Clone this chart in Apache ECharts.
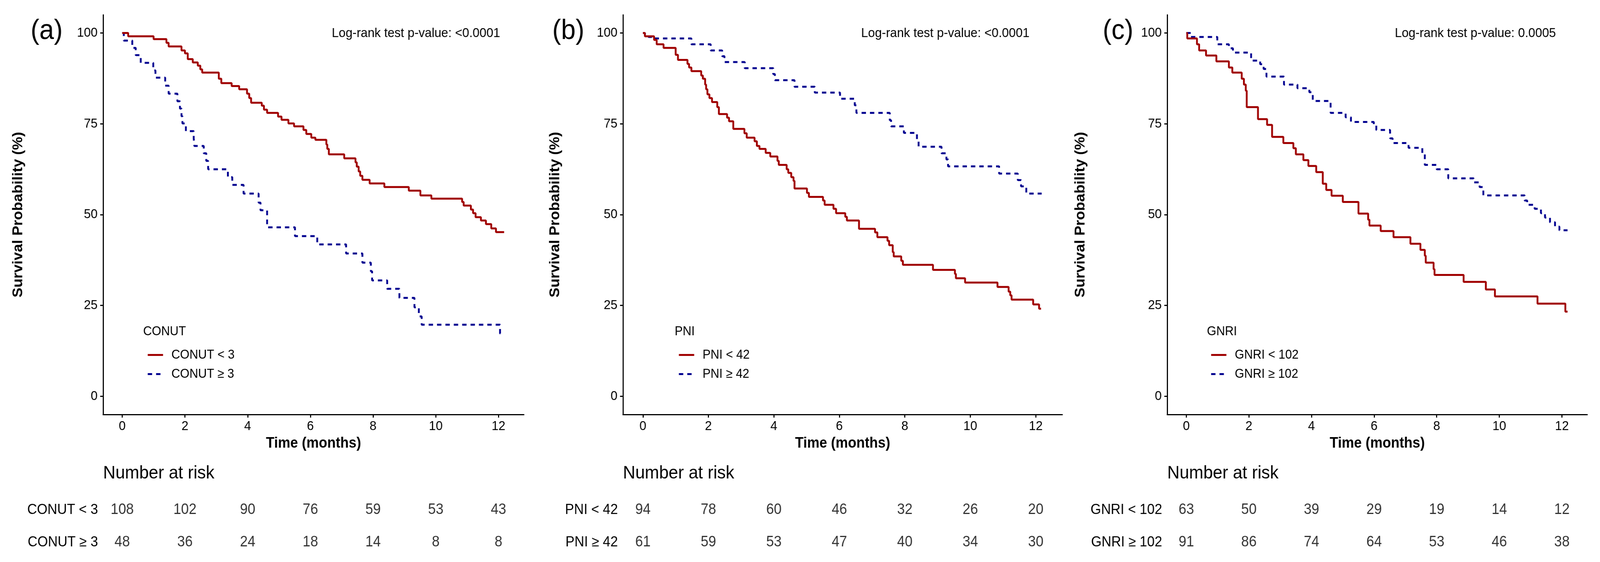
<!DOCTYPE html>
<html><head><meta charset="utf-8">
<script src="https://cdn.jsdelivr.net/npm/echarts@6/dist/echarts.min.js"></script>
<style>html,body{margin:0;padding:0;background:#fff;overflow:hidden}#c{width:4392px;height:1440px;transform-origin:0 0;position:absolute;left:0;top:0}</style>
</head><body><div id="c"></div><script>
// ---------- data ----------
const xTicks = [0, 2, 4, 6, 8, 10, 12];
const yTicks = [0, 25, 50, 75, 100];
const riskTimes = [0, 2, 4, 6, 8, 10, 12];
const panelLabels = ['(a)', '(b)', '(c)'];
const pValueTexts = ['Log-rank test p-value: <0.0001', 'Log-rank test p-value: <0.0001', 'Log-rank test p-value: 0.0005'];
const legendTitles = ['CONUT', 'PNI', 'GNRI'];
const groupNames = [['CONUT < 3', 'CONUT ≥ 3'], ['PNI < 42', 'PNI ≥ 42'], ['GNRI < 102', 'GNRI ≥ 102']];

const conutLow = [[0,100],[0.19,99.1],[1.0,98.3],[1.41,97.3],[1.48,96.3],[1.89,95.2],[2.0,94.4],[2.09,92.8],[2.25,91.9],[2.41,91.0],[2.49,90.0],[2.55,89.1],[3.08,87.4],[3.16,86.2],[3.49,85.4],[3.73,84.5],[3.98,83.3],[4.05,82.1],[4.11,80.8],[4.45,80.0],[4.52,78.9],[4.62,78.0],[4.97,77.0],[5.08,76.1],[5.3,75.1],[5.48,74.3],[5.78,73.3],[5.87,72.2],[6.03,71.2],[6.16,70.6],[6.51,69.3],[6.54,68.1],[6.59,66.6],[7.08,65.5],[7.44,64.4],[7.48,63.2],[7.54,61.9],[7.59,60.7],[7.66,59.6],[7.89,58.6],[8.36,57.6],[9.14,56.6],[9.51,55.3],[9.86,54.4],[10.84,53.5],[10.89,52.5],[11.12,51.4],[11.19,50.4],[11.27,49.3],[11.44,48.4],[11.6,47.4],[11.77,46.2],[11.92,45.2],[12.18,45.2]];
const conutHigh = [[0,100],[0.05,97.9],[0.32,95.9],[0.43,93.9],[0.59,91.8],[0.99,89.7],[1.06,87.7],[1.37,85.5],[1.48,83.3],[1.76,81.2],[1.84,79.2],[1.89,77.1],[1.92,75.1],[2.03,73.0],[2.28,71.0],[2.3,68.9],[2.6,66.9],[2.68,64.8],[2.74,62.5],[3.37,60.3],[3.51,58.2],[3.87,55.8],[4.35,53.3],[4.41,51.2],[4.62,46.5],[5.51,44.1],[6.22,41.8],[7.14,39.3],[7.66,36.8],[7.93,34.4],[7.97,31.9],[8.45,29.6],[8.84,27.1],[9.32,24.5],[9.46,22.0],[9.55,19.7],[12.05,17.3],[12.18,17.3]];
const pniLow = [[0,100],[0.06,99.1],[0.34,98.1],[0.42,96.9],[0.63,95.9],[1.0,94.0],[1.07,92.6],[1.36,91.5],[1.41,90.5],[1.48,89.5],[1.78,88.3],[1.83,87.4],[1.9,85.8],[1.93,84.5],[1.97,83.1],[2.03,82.1],[2.11,81.0],[2.27,79.6],[2.32,77.7],[2.57,76.7],[2.63,75.7],[2.76,73.6],[3.1,72.4],[3.17,71.2],[3.41,70.2],[3.48,68.9],[3.56,68.1],[3.75,67.0],[3.89,66.0],[4.11,64.8],[4.15,63.7],[4.39,62.5],[4.44,61.5],[4.53,60.3],[4.6,59.3],[4.63,57.2],[5.01,56.0],[5.07,54.9],[5.5,53.9],[5.55,52.7],[5.82,51.6],[5.9,50.4],[6.18,49.4],[6.23,48.4],[6.6,46.1],[7.09,45.1],[7.16,43.8],[7.47,42.8],[7.52,41.6],[7.63,39.7],[7.66,38.5],[7.89,37.3],[7.94,36.2],[8.86,34.8],[9.53,33.7],[9.56,32.5],[9.84,31.3],[10.83,30.1],[11.17,28.8],[11.22,27.8],[11.26,26.6],[11.92,25.3],[12.1,24.1],[12.16,24.1]];
const pniHigh = [[0,100],[0.06,99.5],[0.17,98.9],[0.34,98.5],[1.48,96.9],[2.07,95.2],[2.42,93.6],[2.49,92.0],[3.11,90.3],[3.98,88.7],[4.03,87.0],[4.63,85.2],[5.25,83.6],[6.02,81.9],[6.47,80.1],[6.52,78.0],[7.54,76.0],[7.58,74.3],[7.97,72.5],[8.37,70.6],[8.42,68.7],[9.12,66.9],[9.27,65.2],[9.32,63.3],[10.88,61.3],[11.45,59.5],[11.55,57.8],[11.71,55.8],[12.18,55.8]];
const gnriLow = [[0,100],[0.03,98.5],[0.34,96.9],[0.41,95.2],[0.63,93.8],[0.96,92.2],[1.36,90.5],[1.47,89.1],[1.77,87.4],[1.84,85.8],[1.9,84.1],[1.93,79.6],[2.29,76.3],[2.58,74.7],[2.74,71.4],[3.1,69.7],[3.42,68.3],[3.5,66.6],[3.74,65.0],[3.9,63.4],[4.15,61.7],[4.36,58.5],[4.47,56.8],[4.64,55.2],[5.0,53.5],[5.5,50.3],[5.81,48.6],[5.85,47.0],[6.21,45.5],[6.62,43.8],[7.16,42.0],[7.48,40.3],[7.62,38.7],[7.65,36.8],[7.9,35.0],[7.93,33.4],[8.86,31.5],[9.57,29.4],[9.86,27.5],[11.22,25.5],[12.11,23.3],[12.18,23.3]];
const gnriHigh = [[0,100],[0.14,98.9],[0.99,96.9],[1.36,95.8],[1.49,94.6],[2.07,92.4],[2.36,91.4],[2.47,90.1],[2.56,88.0],[3.12,85.8],[3.55,84.8],[3.93,83.7],[4.04,81.3],[4.61,78.0],[5.09,76.8],[5.26,75.5],[5.99,74.7],[6.07,73.3],[6.51,71.0],[6.59,69.7],[7.1,68.4],[7.54,66.9],[7.62,63.7],[8.0,62.5],[8.37,60.0],[9.18,58.9],[9.37,57.6],[9.49,55.3],[10.81,53.9],[10.89,52.7],[11.13,51.6],[11.33,50.4],[11.46,49.2],[11.62,47.9],[11.78,46.7],[11.92,45.7],[12.18,45.7]];

const conutRiskLow = [108, 102, 90, 76, 59, 53, 43];
const conutRiskHigh = [48, 36, 24, 18, 14, 8, 8];
const pniRiskLow = [94, 78, 60, 46, 32, 26, 20];
const pniRiskHigh = [61, 59, 53, 47, 40, 34, 30];
const gnriRiskLow = [63, 50, 39, 29, 19, 14, 12];
const gnriRiskHigh = [91, 86, 74, 64, 53, 46, 38];

const curves = [[conutLow, conutHigh], [pniLow, pniHigh], [gnriLow, gnriHigh]];
const risks = [[conutRiskLow, conutRiskHigh], [pniRiskLow, pniRiskHigh], [gnriRiskLow, gnriRiskHigh]];

// ---------- layout / style ----------
const FONT = '"Liberation Sans", Arial, sans-serif';
const RED = '#A00000', BLUE = '#000090';
const PLOT_TOP = 38, PLOT_H = 1024;
const TABLE_TOP = 1265, TABLE_H = 166;
const X_MIN = -0.61, X_MAX = 12.81;
const LINE_W = 5;
const layout = [
  { left: 283, width: 1155, yNameGap: 213, labelX: 128, pRight: 1373, legX: 398, legTitleX: 393 },
  { left: 1710, width: 1206, yNameGap: 166, labelX: 1560, pRight: 2826, legX: 1856, legTitleX: 1852 },
  { left: 3204, width: 1153, yNameGap: 218, labelX: 3069, pRight: 4271, legX: 3317, legTitleX: 3313 }
];

// fit the 4392x1440 design into the actual viewport
const box = document.getElementById('c');
const sx = (window.innerWidth || 4392) / 4392;
const sy = (window.innerHeight || 1440) / 1440;
if (Math.abs(sx - 1) > 0.001 || Math.abs(sy - 1) > 0.001) box.style.transform = 'scale(' + sx + ',' + sy + ')';

const grid = [], xAxis = [], yAxis = [], series = [], legend = [], graphic = [];
const axisLineStyle = { color: '#000', width: 3 };

layout.forEach((L, i) => {
  grid.push({ left: L.left, top: PLOT_TOP, width: L.width, height: PLOT_H, containLabel: false });
  xAxis.push({
    type: 'value', gridIndex: grid.length - 1, min: X_MIN, max: X_MAX,
    axisLine: { show: true, onZero: false, lineStyle: axisLineStyle },
    axisTick: { show: true, length: 8, lineStyle: axisLineStyle, customValues: xTicks },
    axisLabel: { customValues: xTicks, fontSize: 34, color: '#000', fontFamily: FONT, margin: 14 },
    splitLine: { show: false },
    name: 'Time (months)', nameLocation: 'middle', nameGap: 56,
    nameTextStyle: { fontSize: 38, fontWeight: 'bold', color: '#000', fontFamily: FONT }
  });
  yAxis.push({
    type: 'value', gridIndex: grid.length - 1, min: -5, max: 105,
    axisLine: { show: true, onZero: false, lineStyle: axisLineStyle },
    axisTick: { show: true, length: 8, lineStyle: axisLineStyle, customValues: yTicks },
    axisLabel: { customValues: yTicks, fontSize: 34, color: '#000', fontFamily: FONT, margin: 15 },
    splitLine: { show: false },
    name: 'Survival Probability (%)', nameLocation: 'middle', nameGap: L.yNameGap,
    nameTextStyle: { fontSize: 38, fontWeight: 'bold', color: '#000', fontFamily: FONT }
  });
  const plotIdx = xAxis.length - 1;
  curves[i].forEach((curve, k) => {
    series.push({
      type: 'line', name: groupNames[i][k], xAxisIndex: plotIdx, yAxisIndex: plotIdx,
      data: curve, step: 'end', symbol: 'none', showSymbol: false, silent: true,
      lineStyle: { color: k === 0 ? RED : BLUE, width: LINE_W, type: k === 0 ? 'solid' : [12, 11] },
      itemStyle: { color: k === 0 ? RED : BLUE }, z: k === 0 ? 3 : 2
    });
  });
  legend.push({
    orient: 'vertical', left: L.legX, top: 888, itemWidth: 42, itemHeight: 36, itemGap: 16,
    data: groupNames[i], selectedMode: false,
    itemStyle: { opacity: 0 },
    lineStyle: { width: LINE_W },
    textStyle: { fontSize: 33, color: '#000', fontFamily: FONT, padding: [0, 0, 0, 18] }
  });

  // risk table
  grid.push({ left: L.left, top: TABLE_TOP, width: L.width, height: TABLE_H, containLabel: false });
  xAxis.push({ type: 'value', gridIndex: grid.length - 1, min: X_MIN, max: X_MAX, show: false });
  yAxis.push({
    type: 'category', gridIndex: grid.length - 1, data: groupNames[i], inverse: true,
    axisLine: { show: false }, axisTick: { show: false }, splitLine: { show: false },
    axisLabel: { fontSize: 37, color: '#000', fontFamily: FONT, margin: 14 }
  });
  const tIdx = xAxis.length - 1;
  risks[i].forEach((row, k) => {
    series.push({
      type: 'scatter', name: 'risk-' + i + '-' + k, xAxisIndex: tIdx, yAxisIndex: tIdx,
      data: riskTimes.map((t, j) => [t, k, row[j]]), encode: { x: 0, y: 1 },
      symbolSize: 1, itemStyle: { color: 'rgba(0,0,0,0)' }, silent: true,
      label: { show: true, position: 'inside', formatter: p => String(p.value[2]),
               fontSize: 38, color: '#000', fontFamily: FONT }
    });
  });

  graphic.push({ type: 'text', x: L.labelX, y: 80, style: { text: panelLabels[i], fontSize: 72, fontFamily: FONT, fill: '#000', align: 'center', verticalAlign: 'middle' } });
  graphic.push({ type: 'text', x: L.pRight, y: 86, style: { text: pValueTexts[i], fontSize: 34, fontFamily: FONT, fill: '#000', align: 'right', verticalAlign: 'middle' } });
  graphic.push({ type: 'text', x: L.legTitleX, y: 850, style: { text: legendTitles[i], fontSize: 33, fontFamily: FONT, fill: '#000', align: 'left', verticalAlign: 'middle' } });
  graphic.push({ type: 'text', x: L.left, y: 1213, style: { text: 'Number at risk', fontSize: 47, fontFamily: FONT, fill: '#000', align: 'left', verticalAlign: 'middle' } });
});

const chart = echarts.init(box, null, { renderer: 'canvas', width: 4392, height: 1440 });
chart.setOption({
  animation: false, backgroundColor: '#fff',
  textStyle: { fontFamily: FONT },
  grid, xAxis, yAxis, series, legend, graphic
});
</script></body></html>
